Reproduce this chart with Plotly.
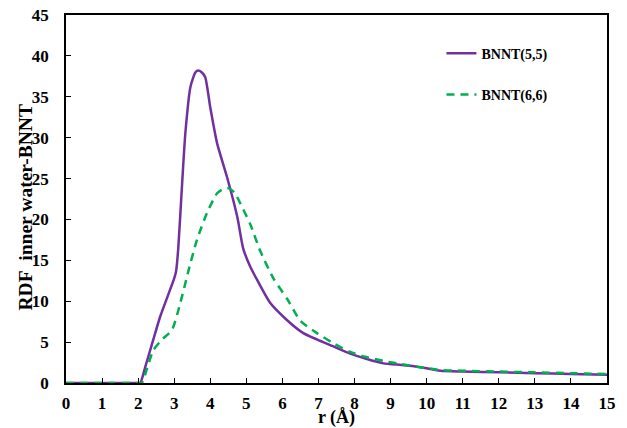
import plotly.graph_objects as go

# BNNT(5,5)
r_55 = [0, 1, 2.0, 2.06, 2.2, 2.42, 2.61, 2.81, 3.0, 3.05, 3.11, 3.22, 3.31, 3.45, 3.59, 3.67,
        3.76, 3.86, 4.0, 4.19, 4.47, 4.75, 4.91, 5.1, 5.3, 5.66, 6.1, 6.58, 6.97, 7.4, 7.88,
        8.3, 8.8, 9.3, 9.74, 10.38, 11, 12, 13, 14, 15]
g_55 = [0, 0, 0, 0, 2.0, 5.3, 8.1, 10.5, 12.8, 13.6, 16.3, 24.4, 30.6, 36.2, 38.0, 38.2,
        38.0, 37.4, 33.7, 29.3, 25.1, 20.3, 16.5, 14.3, 12.6, 9.8, 7.8, 6.1, 5.3, 4.5, 3.6,
        3.0, 2.4, 2.2, 2.0, 1.5, 1.4, 1.3, 1.2, 1.1, 1.0]

# BNNT(6,6)
r_66 = [0, 1, 2.0, 2.1, 2.25, 2.42, 2.66, 2.94, 3.17, 3.40, 3.63, 3.91, 4.19, 4.35, 4.51, 4.67,
        4.83, 5.11, 5.39, 5.75, 6.13, 6.5, 6.96, 7.4, 7.88, 8.3, 8.8, 9.3, 9.73, 10.38, 11, 12,
        13, 14, 15]
g_66 = [0, 0, 0, 0, 1.8, 4.0, 5.3, 6.5, 9.8, 13.8, 17.5, 20.8, 23.2, 23.7, 23.8, 23.3,
        22.0, 19.4, 16.1, 12.8, 10.3, 7.6, 6.1, 4.9, 3.8, 3.2, 2.7, 2.3, 2.0, 1.6, 1.5, 1.4,
        1.3, 1.2, 1.1]

x_ticks = list(range(0, 16))
y_ticks = list(range(0, 46, 5))

FONT = "Liberation Serif"

fig = go.Figure()
fig.add_trace(go.Scatter(x=r_55, y=g_55, mode="lines", name="<b>BNNT(5,5)</b>",
                         legendgroup="a",
                         line=dict(color="#7030A0", width=2.5, shape="spline", smoothing=0.6)))
fig.add_trace(go.Scatter(x=r_66, y=g_66, mode="lines", name="<b>BNNT(6,6)</b>",
                         legendgroup="b",
                         line=dict(color="#00B050", width=2.5, dash="8px,6px",
                                   shape="spline", smoothing=0.6)))

axis_common = dict(showgrid=False, zeroline=False, showline=True, linecolor="black",
                   linewidth=1.5, mirror=True, ticks="inside", ticklen=5, tickwidth=1,
                   tickcolor="black", automargin=False,
                   tickfont=dict(family=FONT, size=17, color="black", weight="bold"))

fig.update_xaxes(range=[0, 15], tickvals=x_ticks, ticktext=[str(v) for v in x_ticks],
                 title=dict(text="<b>r (Å)</b>", font=dict(family=FONT, size=18, color="black"),
                            standoff=3),
                 ticklabelstandoff=4, **axis_common)
fig.update_yaxes(range=[0, 45], tickvals=y_ticks, ticktext=[str(v) for v in y_ticks],
                 ticklabelstandoff=12, **axis_common)

fig.add_annotation(text="<b>RDF\u00a0 inner water-BNNT</b>", textangle=-90,
                   xref="paper", yref="paper", x=0, y=0.477, xanchor="center",
                   yanchor="middle", xshift=-41, showarrow=False,
                   font=dict(family=FONT, size=19.5, color="black"))

fig.update_layout(
    width=627, height=428,
    margin=dict(l=66, r=20, t=15, b=45),
    plot_bgcolor="white", paper_bgcolor="white",
    showlegend=True,
    legend=dict(x=0.694, y=0.9386, xanchor="left", yanchor="top",
                bgcolor="rgba(0,0,0,0)", tracegroupgap=20,
                font=dict(family=FONT, size=14, color="black")),
)

fig.write_html("out.html", config={"displayModeBar": False},
               post_script="document.body.style.margin='0';document.body.style.overflow='hidden';")
